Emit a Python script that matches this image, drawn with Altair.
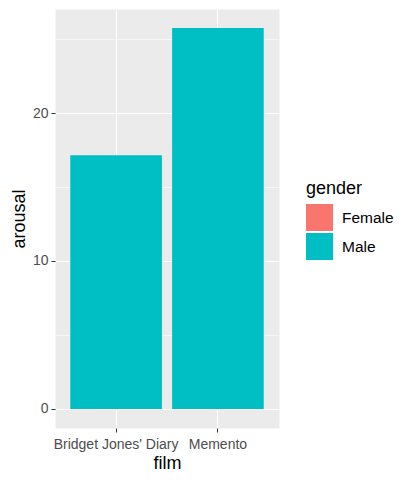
import altair as alt
import pandas as pd

films = ["Bridget Jones' Diary", "Memento"]
genders = ["Male", "Male"]
arousal = [17.15, 25.75]
gender_levels = ["Female", "Male"]
gender_colors = ["#F8766D", "#00BFC4"]
y_ticks = [0, 5, 10, 15, 20, 25]

df = pd.DataFrame({"film": films, "gender": genders, "arousal": arousal})

font = "Liberation Sans"

chart = alt.Chart(df).mark_bar().encode(
    x=alt.X("film:N", sort=films, title="film",
            scale=alt.Scale(paddingInner=0.1, paddingOuter=0.15),
            axis=alt.Axis(labelAngle=0, bandPosition=0.5, grid=True, gridColor="white",
                          gridWidth=1.1, domain=False, tickColor="#333333", tickSize=4,
                          labelColor="#4D4D4D", labelFontSize=14, labelPadding=5,
                          titleFontSize=18, titleFontWeight="normal", titleColor="black",
                          titlePadding=3, labelFont=font, titleFont=font)),
    y=alt.Y("arousal:Q", title="arousal",
            scale=alt.Scale(domain=[-1.29, 27.03], nice=False, zero=False),
            axis=alt.Axis(values=y_ticks, domain=False, grid=True, gridColor="white",
                          gridWidth=alt.ExprRef("datum.value % 10 === 0 ? 1.1 : 0.55"),
                          tickOpacity=alt.ExprRef("datum.value % 10 === 0 ? 1 : 0"),
                          labelExpr="datum.value % 10 === 0 ? datum.label : ''",
                          tickColor="#333333", tickSize=4, labelColor="#4D4D4D",
                          labelFontSize=14, labelPadding=3, titleFontSize=18,
                          titleFontWeight="normal", titleColor="black", titlePadding=4,
                          labelFont=font, titleFont=font)),
    y2=alt.datum(0),
    color=alt.Color("gender:N",
                    scale=alt.Scale(domain=gender_levels, range=gender_colors),
                    legend=alt.Legend(title="gender", orient="none", legendX=251, legendY=171,
                                      symbolType="square", symbolSize=729, symbolStrokeWidth=0,
                                      titleFontSize=18, titleFontWeight="normal",
                                      titleColor="black", labelFontSize=15.5, labelColor="black",
                                      titleFont=font, labelFont=font, rowPadding=2,
                                      labelOffset=9, titlePadding=6, symbolOpacity=1)),
).properties(
    width=224, height=419,
    autosize=alt.AutoSizeParams(type="none"),
    padding={"left": 55, "top": 9, "right": 133, "bottom": 55},
).configure(
    background="white",
    view=alt.ViewConfig(fill="#EBEBEB", stroke="transparent"),
)

chart.save("out.html", embed_options={"renderer": "svg", "actions": False})
